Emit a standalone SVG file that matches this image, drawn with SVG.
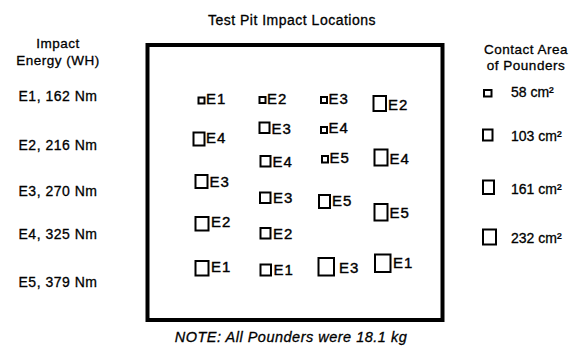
<svg xmlns="http://www.w3.org/2000/svg" width="583" height="347" viewBox="0 0 583 347">
  <style>
    text { font-family: "Liberation Sans", Arial, sans-serif; fill: #000; stroke: #000; stroke-width: 0.3px; }
    .hdr { font-size: 14px; letter-spacing: 0.5px; text-anchor: middle; }
    .sub { font-size: 13.5px; letter-spacing: 0.5px; text-anchor: middle; }
    .lbl { font-size: 14px; letter-spacing: 0.5px; text-anchor: middle; }
    .leg { font-size: 14px; }
    .mk  { font-size: 15px; letter-spacing: 1px; stroke-width: 0.4px; }
    .note { font-size: 14.5px; font-style: italic; letter-spacing: 0.5px; text-anchor: middle; }
    .sq  { fill: none; stroke: #000; stroke-width: 2; }
    .pit { fill: none; stroke: #000; stroke-width: 4; }
  </style>

  <!-- title -->
  <g id="title">
    <text class="hdr" x="292" y="25">Test Pit Impact Locations</text>
  </g>

  <!-- impact energy column -->
  <g id="energy-legend">
    <text class="sub" x="58" y="48">Impact</text>
    <text class="sub" x="58" y="64.5">Energy (WH)</text>
    <text class="lbl" x="58" y="101">E1, 162 Nm</text>
    <text class="lbl" x="58" y="150">E2, 216 Nm</text>
    <text class="lbl" x="58" y="196">E3, 270 Nm</text>
    <text class="lbl" x="58" y="239">E4, 325 Nm</text>
    <text class="lbl" x="58" y="287">E5, 379 Nm</text>
  </g>

  <!-- pounder contact area column -->
  <g id="area-legend">
    <text class="sub" x="526" y="54">Contact Area</text>
    <text class="sub" x="526" y="70">of Pounders</text>
    <rect class="sq" x="484" y="90" width="7.5" height="6.5"/>
    <text class="leg" x="511" y="97">58 cm²</text>
    <rect class="sq" x="483" y="129.5" width="9.5" height="11"/>
    <text class="leg" x="511" y="141">103 cm²</text>
    <rect class="sq" x="483" y="180.5" width="11" height="13.5"/>
    <text class="leg" x="511" y="194">161 cm²</text>
    <rect class="sq" x="483" y="229.5" width="13" height="15"/>
    <text class="leg" x="511" y="243">232 cm²</text>
  </g>

  <!-- test pit outline -->
  <g id="pit">
    <rect class="pit" x="147.5" y="45" width="295" height="275"/>
  </g>

  <!-- impact locations -->
  <g id="c1-r1"><rect class="sq" x="198.5" y="97.5" width="6" height="6"/><text class="mk" x="206" y="104">E1</text></g>
  <g id="c2-r1"><rect class="sq" x="259.5" y="97" width="6" height="6"/><text class="mk" x="267" y="104">E2</text></g>
  <g id="c3-r1"><rect class="sq" x="321" y="97" width="6" height="6"/><text class="mk" x="328.5" y="103.5">E3</text></g>
  <g id="c4-r1"><rect class="sq" x="373.5" y="96" width="12.5" height="15"/><text class="mk" x="388" y="110">E2</text></g>

  <g id="c1-r2"><rect class="sq" x="193.5" y="132.5" width="11" height="13"/><text class="mk" x="206" y="142.5">E4</text></g>
  <g id="c2-r2"><rect class="sq" x="259.5" y="122.5" width="10" height="10.5"/><text class="mk" x="271.5" y="134">E3</text></g>
  <g id="c3-r2"><rect class="sq" x="321" y="127" width="6" height="6"/><text class="mk" x="328.5" y="133">E4</text></g>

  <g id="c2-r3"><rect class="sq" x="260.5" y="156" width="10" height="10.5"/><text class="mk" x="272.5" y="167">E4</text></g>
  <g id="c3-r3"><rect class="sq" x="322" y="156" width="6" height="6.5"/><text class="mk" x="329.5" y="163">E5</text></g>
  <g id="c4-r3"><rect class="sq" x="374.5" y="149.5" width="13" height="16"/><text class="mk" x="389.5" y="164">E4</text></g>

  <g id="c1-r4"><rect class="sq" x="195.5" y="175" width="12" height="13"/><text class="mk" x="209.5" y="187">E3</text></g>
  <g id="c2-r4"><rect class="sq" x="260" y="192.5" width="10.5" height="10.5"/><text class="mk" x="273" y="203">E3</text></g>
  <g id="c3-r4"><rect class="sq" x="319" y="195" width="11" height="13"/><text class="mk" x="332" y="206">E5</text></g>
  <g id="c4-r4"><rect class="sq" x="374.5" y="204" width="13" height="16.5"/><text class="mk" x="389.5" y="217.5">E5</text></g>

  <g id="c1-r5"><rect class="sq" x="195.5" y="217" width="13" height="13.5"/><text class="mk" x="211" y="227">E2</text></g>
  <g id="c2-r5"><rect class="sq" x="260.5" y="228" width="10" height="10.5"/><text class="mk" x="273" y="238.5">E2</text></g>

  <g id="c1-r6"><rect class="sq" x="195.5" y="261" width="13" height="14.5"/><text class="mk" x="211" y="272">E1</text></g>
  <g id="c2-r6"><rect class="sq" x="260.5" y="264.5" width="10.5" height="11"/><text class="mk" x="273.5" y="275">E1</text></g>
  <g id="c3-r6"><rect class="sq" x="318.5" y="258" width="15.5" height="17.5"/><text class="mk" x="339" y="273">E3</text></g>
  <g id="c4-r6"><rect class="sq" x="375" y="254.5" width="15.5" height="17.5"/><text class="mk" x="393" y="268">E1</text></g>

  <!-- footnote -->
  <g id="note">
    <text class="note" x="291" y="342">NOTE: All Pounders were 18.1 kg</text>
  </g>
</svg>
